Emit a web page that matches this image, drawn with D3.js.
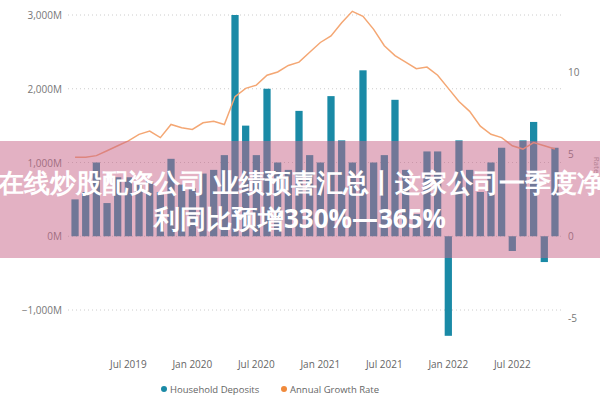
<!DOCTYPE html>
<html>
<head>
<meta charset="utf-8">
<script src="https://cdn.jsdelivr.net/npm/d3@7"></script>
<style>
body { margin: 0; background: #fff; }
text { font-family: "Open Sans", sans-serif; }
</style>
</head>
<body>
<svg id="chart" width="600" height="400"></svg>
<script>
// 数据
var deposits = [500, 600, 1000, 450, 800, 800, 700, 750, 600, 1050, 700, 650, 850, 900, 1100,
    3000, 1500, 1100, 2000, 1000, 900, 1700, 1100, 1000, 1900, 1300, 1000, 2250, 1000, 1100,
    1850, 900, 300, 1150, 1150, -1350, 1300, 900, 600, 1000, 1200, -200, 1300, 1550, -350, 1200];
var growth = [4.8, 4.8, 4.9, 5.2, 5.5, 5.8, 6.2, 6.4, 6.0, 6.8, 6.6, 6.5, 6.9, 7.0, 6.8,
    8.5, 9.0, 9.2, 9.8, 10.0, 10.4, 10.6, 11.2, 11.8, 12.2, 13.0, 13.7, 13.4, 12.6, 11.6,
    11.0, 10.6, 10.2, 10.3, 9.8, 9.0, 8.2, 7.6, 6.7, 6.2, 6.0, 5.5, 5.3, 5.7, 5.5, 5.3];
var months = d3.range(deposits.length).map(function(i) { return new Date(2019, 1 + i, 1); });
var leftTicks = [-1000, 0, 1000, 2000, 3000];
var rightTicks = [-5, 0, 5, 10];
var xTickLabels = ["Jul 2019", "Jan 2020", "Jul 2020", "Jan 2021", "Jul 2021", "Jan 2022", "Jul 2022"];
var titleLines = ["在线炒股配资公司 业绩预喜汇总丨这家公司一季度净", "利同比预增330%—365%"];

var svg = d3.select("#chart");
var x = d3.scaleBand().domain(d3.range(deposits.length)).range([68, 562]).padding(0.32);
var y = d3.scaleLinear().domain([-1000, 3000]).range([310, 15]);
var y2 = d3.scaleLinear().domain([-5, 10]).range([318, 72]);

//网格线
svg.selectAll(".grid").data(leftTicks).enter().append("line")
    .attr("x1", 68).attr("x2", 562)
    .attr("y1", function(d) { return y(d); }).attr("y2", function(d) { return y(d); })
    .attr("stroke", "#ccc").attr("stroke-dasharray", "1,3");

svg.selectAll(".lt").data(leftTicks).enter().append("text")
    .attr("x", 62).attr("y", function(d) { return y(d) + 4; })
    .attr("text-anchor", "end").attr("font-size", 10).attr("fill", "#777")
    .text(function(d) { return d3.format(",")(d) + "M"; });

svg.selectAll(".rt").data(rightTicks).enter().append("text")
    .attr("x", 568).attr("y", function(d) { return y2(d) + 4; })
    .attr("font-size", 10).attr("fill", "#777")
    .text(function(d) { return d; });

svg.append("text").attr("transform", "translate(594,165) rotate(90)")
    .attr("text-anchor", "middle").attr("font-size", 8).attr("fill", "#999").text("Rate");

//柱子
svg.selectAll(".bar").data(deposits).enter().append("rect")
    .attr("x", function(d, i) { return x(i); })
    .attr("width", x.bandwidth())
    .attr("y", function(d) { return y(Math.max(0, d)); })
    .attr("height", function(d) { return Math.abs(y(d) - y(0)); })
    .attr("fill", "#1a8aa6");

//增长率折线
var line = d3.line()
    .x(function(d, i) { return x(i) + x.bandwidth() / 2; })
    .y(function(d) { return y2(d); });
svg.append("path").datum(growth).attr("d", line)
    .attr("fill", "none").attr("stroke", "#f4a774").attr("stroke-width", 1.5);

//x轴标签
months.forEach(function(m, i) {
    var label = d3.timeFormat("%b %Y")(m);
    if (xTickLabels.indexOf(label) >= 0) {
        svg.append("text").attr("x", x(i) + x.bandwidth() / 2).attr("y", 368)
            .attr("text-anchor", "middle").attr("font-size", 10).attr("fill", "#666")
            .text(label);
    }
});

//图例
var legend = svg.append("g").attr("transform", "translate(160,389)");
legend.append("circle").attr("cx", 4).attr("cy", 0).attr("r", 3).attr("fill", "#1a8aa6");
legend.append("text").attr("x", 10).attr("y", 3.5).attr("font-size", 9.5).attr("fill", "#666").text("Household Deposits");
legend.append("circle").attr("cx", 124).attr("cy", 0).attr("r", 3).attr("fill", "#f08a3c");
legend.append("text").attr("x", 130).attr("y", 3.5).attr("font-size", 9.5).attr("fill", "#666").text("Annual Growth Rate");

//粉色遮罩和标题
svg.append("rect").attr("x", 0).attr("y", 141).attr("width", 600).attr("height", 117)
    .attr("fill", "rgba(200,100,135,0.5)");
svg.selectAll(".title").data(titleLines).enter().append("text")
    .attr("x", function(d, i) { return i == 0 ? -2 : 300; })
    .attr("y", function(d, i) { return 192 + i * 36; })
    .attr("text-anchor", function(d, i) { return i == 0 ? "start" : "middle"; })
    .attr("font-family", "Noto Sans CJK SC").attr("font-weight", "bold")
    .attr("font-size", 26).attr("fill", "#fff")
    .text(function(d) { return d; });
</script>
</body>
</html>
